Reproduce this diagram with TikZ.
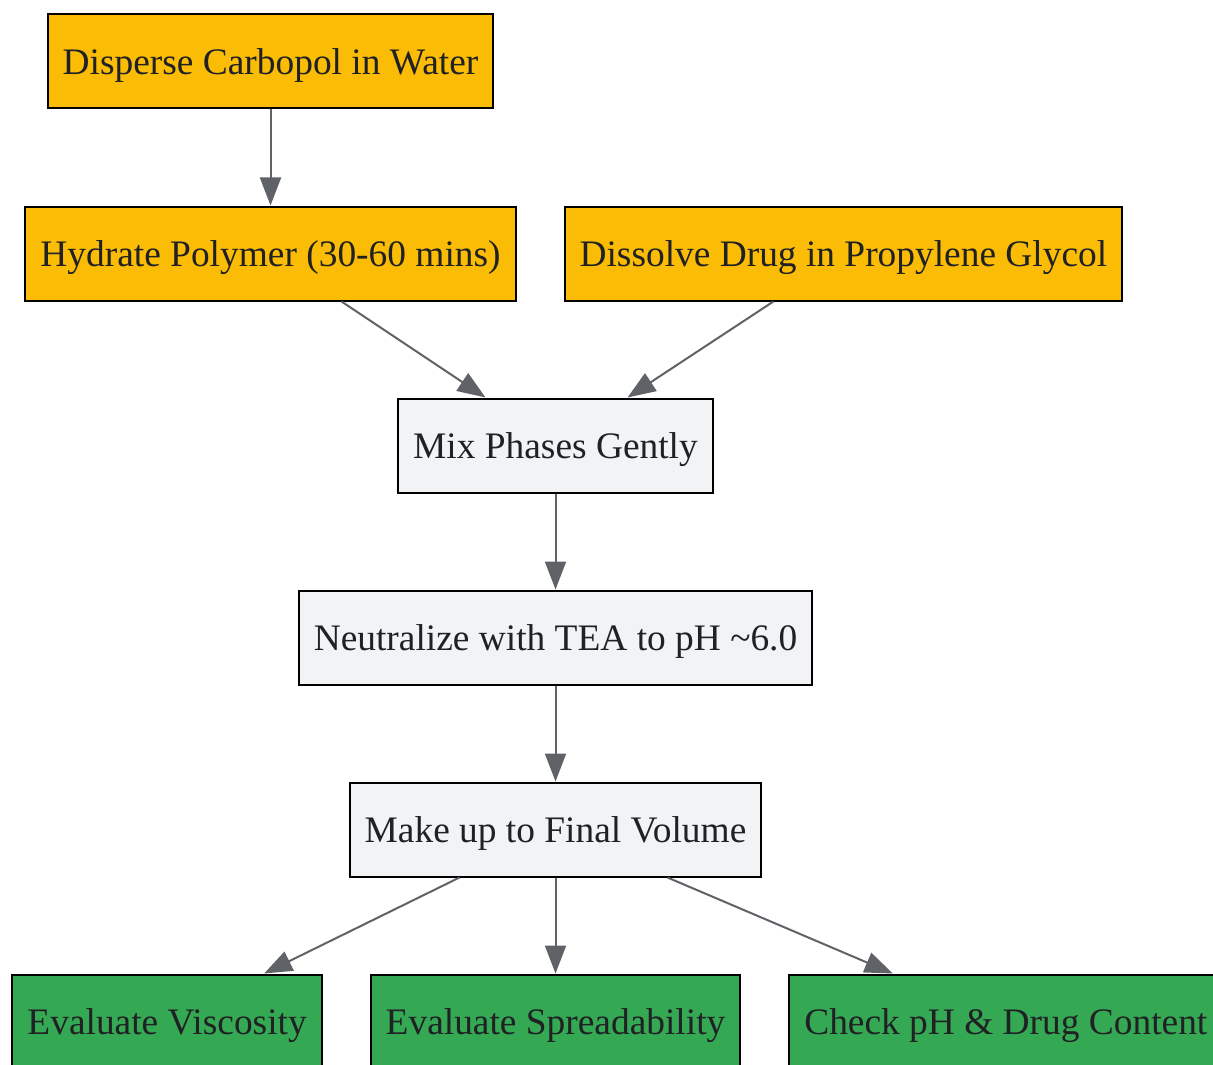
\documentclass[tikz,border=0pt]{standalone}
\usepackage{fontspec}
\setmainfont{Liberation Serif}
\usetikzlibrary{positioning, arrows.meta}

\definecolor{prepyellow}{HTML}{FBBC05}
\definecolor{procgrey}{HTML}{F1F3F4}
\definecolor{testgreen}{HTML}{34A853}
\definecolor{linkgrey}{HTML}{5F6368}
\definecolor{textdark}{HTML}{202124}

\begin{document}
\begin{tikzpicture}[
        node distance = 48pt and 23.5pt,
        box/.style = {rectangle, draw=black, line width=1pt, minimum height=47pt, inner xsep=7.5pt,
            text height=13pt, text depth=0pt,
            text=textdark, font=\fontsize{18.7pt}{22pt}\selectfont},
        prep/.style = {box, fill=prepyellow},
        proc/.style = {box, fill=procgrey},
        test/.style = {box, fill=testgreen},
        link/.style = {draw=linkgrey, line width=1pt, -{Triangle[length=14pt, width=10.5pt]}}
    ]
        \path[use as bounding box, clip] (0,0) rectangle (606.5pt,-532pt);

        % Processing steps
        \node[proc] (mix) at (277.75pt,-222.75pt) {Mix Phases Gently};
        \node[proc, below=of mix] (neutral) {Neutralize with TEA to pH \textasciitilde6.0};
        \node[proc, below=of neutral] (volume) {Make up to Final Volume};

        % Preparation
        \node[prep, above=of mix, xshift=-142.5pt] (hydrate) {Hydrate Polymer (30-60 mins)};
        \node[prep, above=of hydrate] (disperse) {Disperse Carbopol in Water};
        \node[prep, right=of hydrate] (dissolve) {Dissolve Drug in Propylene Glycol};

        % Evaluation
        \node[test, below=of volume] (spread) {Evaluate Spreadability};
        \node[test, left=of spread] (visc) {Evaluate Viscosity};
        \node[test, right=of spread] (check) {Check pH \& Drug Content};

        % Arrows
        \draw[link] (disperse) -- (hydrate);
        \draw[link] ([xshift=35.5pt]hydrate.south) -- ([xshift=-35pt]mix.north);
        \draw[link] ([xshift=-35pt]dissolve.south) -- ([xshift=36pt]mix.north);
        \draw[link] (mix) -- (neutral);
        \draw[link] (neutral) -- (volume);
        \draw[link] ([xshift=-48pt]volume.south) -- ([xshift=48.5pt]visc.north);
        \draw[link] (volume) -- (spread);
        \draw[link] ([xshift=56pt]volume.south) -- ([xshift=-56.5pt]check.north);
    \end{tikzpicture}
\end{document}
